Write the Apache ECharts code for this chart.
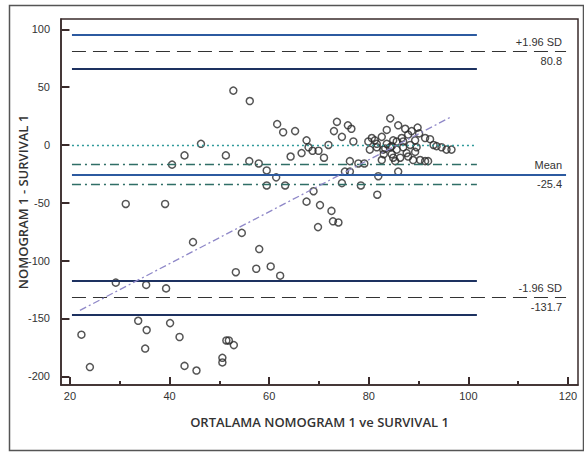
<!DOCTYPE html>
<html>
<head>
<meta charset="utf-8">
<script src="https://cdn.jsdelivr.net/npm/echarts@6/dist/echarts.min.js"></script>
<style>
  html, body { margin: 0; padding: 0; background: #fff; }
  #chart { width: 584px; height: 452px; }
</style>
</head>
<body>
<div id="chart"></div>
<script>
// ── Data ─────────────────────────────────────────────────────────────
// mean of the two methods (x) and their difference (y)
const meanX = [
  22.3, 24.0, 29.2, 31.2, 33.7, 35.3, 35.4, 35.1, 39.1, 39.3, 40.1, 40.5, 42.0, 43.0, 43.0,
  44.7, 45.4, 46.3, 50.6, 50.6, 51.3, 51.4, 51.9, 52.9, 52.8, 53.3, 54.5, 56.0, 56.1, 57.4,
  57.9, 58.0, 59.5, 59.5, 60.3, 61.4, 61.6, 62.2, 62.8, 63.2, 64.3, 65.2, 66.5, 67.5, 67.5,
  67.9, 68.7, 68.9, 69.9, 69.8, 70.2, 71.0, 71.9, 72.5, 72.8, 73.6, 73.0, 73.9, 74.6, 74.6,
  75.2, 75.8, 76.5, 76.2, 76.2, 76.9, 77.9, 78.4, 79.1, 79.9, 80.2, 80.6, 81.2, 81.6, 81.6,
  81.7, 81.9, 82.6, 82.6, 82.9, 83.0, 83.6, 83.6, 84.3, 84.3, 84.6, 84.9, 84.9, 85.6, 85.9,
  85.9, 86.3, 86.6, 86.9, 87.3, 87.6, 87.9, 87.9, 88.3, 88.6, 88.9, 89.3, 89.3, 89.6, 89.8,
  90.1, 90.3, 91.3, 91.3, 91.9, 92.3, 93.0, 93.6, 94.6, 95.6, 96.6, 85.3, 83.3, 84.6, 85.6,
  86.9
];
const diff = [
  -164, -192, -119, -51, -152, -121, -160, -176, -51, -124, -154, -17, -166, -9, -191,
  -84, -195, 1, -184, -188, -9, -169, -169, -173, 47, -110, -76, -14, 38, -107,
  -16, -90, -22, -35, -105, -28, 18, -113, 11, -35, -10, 12, -7, 4, -49,
  -2, -5, -40, -5, -71, -52, -11, 0, -57, -66, 20, 12, -67, 7, -33,
  -23, 17, 14, -14, -23, 3, -16, -35, -16, 3, -4, 6, 4, -2, 1,
  -43, -27, 7, -13, -4, -8, 13, 1, 23, -2, -8, 4, -11, -4, 17,
  -23, -11, 6, -2, 14, -7, 9, -10, 0, 12, -13, 4, -6, -2, 15,
  10, -13, 6, -14, -14, 5, 0, -1, -2, -4, -4, -14, -3, -1, 3,
  3
];

const xTicks = [20, 40, 60, 80, 100, 120];
const xMinorTicks = [30, 50, 70, 90, 110];
const yTicks = [-200, -150, -100, -50, 0, 50, 100];

const meanDiff = -25.4;
const meanCI = [-16.8, -34.0];
const upperLoA = 80.8;
const upperLoACI = [95.7, 65.9];
const lowerLoA = -131.7;
const lowerLoACI = [-117.0, -146.4];
const regX = [22.0, 96.4];
const regY = [-143, 24];

const xMin = 18.2, xMax = 122;
const yMin = -207.5, yMax = 108.9;

// ── Styles ───────────────────────────────────────────────────────────
const font = 'Liberation Sans';
const frame = '#3a2b2b';
const lineStart = 20.4, shortEnd = 101.7, longEnd = 119.6;

const blueSolid = { color: '#2c5aa0', width: 2, type: 'solid' };
const navySolid = { color: '#1d3160', width: 2, type: 'solid' };
const sdDashed = { color: '#333333', width: 1.2, type: [14, 7] };
const zeroDotted = { color: '#2f9a9a', width: 1.4, type: [2, 3] };
const ciDashDot = { color: '#2f6e66', width: 1.4, type: [9, 4, 2, 4] };
const regDashDot = { color: '#8f88c8', width: 1.3, type: [7, 3, 2, 3] };
const tickLine = { color: frame, width: 2, type: 'solid' };
const hidden = { color: 'rgba(0,0,0,0)', width: 1 };

const lblStyle = { fontFamily: font, fontSize: 11, color: '#333' };
const labelTop = t => Object.assign({ show: true, position: 'insideEndTop', distance: 4, formatter: t }, lblStyle);
const labelBottom = t => Object.assign({ show: true, position: 'insideEndBottom', distance: 4, formatter: t }, lblStyle);

function seg(y, x1, x2, style, label) {
  return [
    { coord: [x1, y], lineStyle: style, label: label || { show: false } },
    { coord: [x2, y] }
  ];
}
function pair(a, b, style) {
  return [{ coord: a, lineStyle: style, label: { show: false } }, { coord: b }];
}

// inward tick marks, starting just inside the axis line
// (lengths in axis units: ≈8px major, ≈4px minor)
const tickBaseY = yMin + 0.6, tickBaseX = xMin + 0.15;
const tickLen = { x: 6.3, xMinor: 2.9, y: 1.55 };
const ticks = [].concat(
  xTicks.map(v => pair([v, tickBaseY], [v, tickBaseY + tickLen.x], tickLine)),
  xMinorTicks.map(v => pair([v, tickBaseY], [v, tickBaseY + tickLen.xMinor], tickLine)),
  yTicks.map(v => pair([tickBaseX, v], [tickBaseX + tickLen.y, v], tickLine))
);

const refLines = [
  seg(upperLoACI[0], lineStart, shortEnd, blueSolid),
  seg(upperLoA, lineStart, longEnd, sdDashed, labelTop('+1.96 SD')),
  seg(upperLoA, lineStart, longEnd, hidden, labelBottom(String(upperLoA))),
  seg(upperLoACI[1], lineStart, shortEnd, navySolid),
  seg(0, lineStart, shortEnd, zeroDotted),
  seg(meanCI[0], lineStart, shortEnd, ciDashDot),
  seg(meanDiff, lineStart, longEnd, blueSolid, labelTop('Mean')),
  seg(meanDiff, lineStart, longEnd, hidden, labelBottom(String(meanDiff))),
  seg(meanCI[1], lineStart, shortEnd, ciDashDot),
  seg(lowerLoACI[0], lineStart, shortEnd, navySolid),
  seg(lowerLoA, lineStart, longEnd, sdDashed, labelTop('-1.96 SD')),
  seg(lowerLoA, lineStart, longEnd, hidden, labelBottom(String(lowerLoA))),
  seg(lowerLoACI[1], lineStart, shortEnd, navySolid),
  pair([regX[0], regY[0]], [regX[1], regY[1]], regDashDot)
].concat(ticks);

const chart = echarts.init(document.getElementById('chart'), null, { renderer: 'svg' });
chart.setOption({
  animation: false,
  backgroundColor: '#fff',
  grid: {
    left: 61, right: 6, top: 19, bottom: 67,
    show: true, borderColor: frame, borderWidth: 1.5
  },
  graphic: [{
    type: 'rect', left: 7, top: 3, silent: true,
    shape: { width: 574, height: 445 },
    style: { fill: null, stroke: '#555', lineWidth: 1.5 }
  }],
  xAxis: {
    type: 'value', min: xMin, max: xMax, splitNumber: 5,
    name: 'ORTALAMA NOMOGRAM 1 ve SURVIVAL 1',
    nameLocation: 'middle', nameGap: 30,
    nameTextStyle: { fontFamily: 'Open Sans', fontWeight: 600, fontSize: 13, color: '#333' },
    axisLine: { show: true, onZero: false, lineStyle: { color: frame, width: 1.5 } },
    axisTick: { show: false },
    axisLabel: { showMinLabel: false, showMaxLabel: true, margin: 5, fontFamily: font, fontSize: 11, color: '#333',
      formatter: v => (v % 20 === 0 ? String(v) : '') },
    splitLine: { show: false }
  },
  yAxis: {
    type: 'value', min: yMin, max: yMax, splitNumber: 6,
    name: 'NOMOGRAM 1 - SURVIVAL 1',
    nameLocation: 'middle', nameGap: 32, nameRotate: 90, nameMoveOverlap: false,
    nameTextStyle: { fontFamily: 'Open Sans', fontWeight: 600, fontSize: 13, color: '#333' },
    axisLine: { show: true, onZero: false, lineStyle: { color: frame, width: 1.5 } },
    axisTick: { show: false },
    axisLabel: { showMinLabel: false, showMaxLabel: false, margin: 11, fontFamily: font, fontSize: 11, color: '#333',
      formatter: v => (v % 50 === 0 ? String(v) : '') },
    splitLine: { show: false }
  },
  series: [{
    type: 'scatter',
    data: meanX.map((x, i) => [x, diff[i]]),
    symbol: 'circle',
    symbolSize: 7,
    itemStyle: { color: 'rgba(255,255,255,0)', borderColor: '#2b2b2b', borderWidth: 1.5 },
    markLine: {
      silent: true,
      animation: false,
      symbol: ['none', 'none'],
      data: refLines
    },
    z: 3
  }]
});
</script>
</body>
</html>
